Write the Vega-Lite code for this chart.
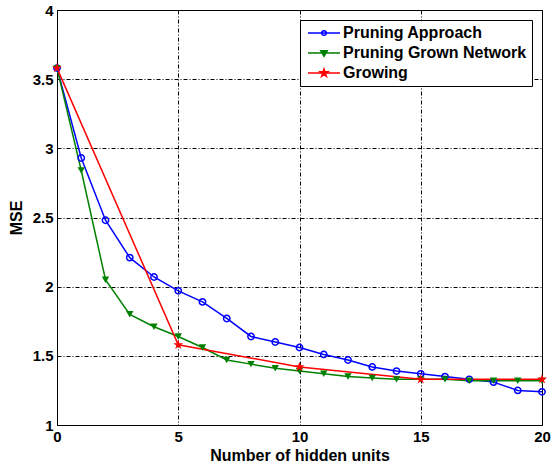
{
  "$schema": "https://vega.github.io/schema/vega-lite/v6.json",
  "width": 485,
  "height": 415,
  "autosize": {"type": "none"},
  "padding": {"left": 57, "top": 10, "right": 11, "bottom": 41},
  "background": "white",
  "config": {
    "view": {"stroke": "black", "strokeWidth": 1},
    "font": "Liberation Sans",
    "axis": {
      "grid": true, "gridColor": "black", "gridDash": [4, 2, 1, 2], "gridOpacity": 1, "gridWidth": 1,
      "domain": false, "ticks": false,
      "labelFont": "Liberation Sans", "labelFontWeight": "bold", "labelFontSize": 15, "labelColor": "black",
      "titleFont": "Liberation Sans", "titleFontWeight": "bold", "titleFontSize": 16, "titleColor": "black"
    }
  },
  "data": {
    "values": [
      {"series": "Pruning Approach", "units": 0, "mse": 3.58},
      {"series": "Pruning Approach", "units": 1, "mse": 2.93},
      {"series": "Pruning Approach", "units": 2, "mse": 2.48},
      {"series": "Pruning Approach", "units": 3, "mse": 2.21},
      {"series": "Pruning Approach", "units": 4, "mse": 2.07},
      {"series": "Pruning Approach", "units": 5, "mse": 1.97},
      {"series": "Pruning Approach", "units": 6, "mse": 1.89},
      {"series": "Pruning Approach", "units": 7, "mse": 1.77},
      {"series": "Pruning Approach", "units": 8, "mse": 1.64},
      {"series": "Pruning Approach", "units": 9, "mse": 1.60},
      {"series": "Pruning Approach", "units": 10, "mse": 1.56},
      {"series": "Pruning Approach", "units": 11, "mse": 1.51},
      {"series": "Pruning Approach", "units": 12, "mse": 1.47},
      {"series": "Pruning Approach", "units": 13, "mse": 1.42},
      {"series": "Pruning Approach", "units": 14, "mse": 1.39},
      {"series": "Pruning Approach", "units": 15, "mse": 1.37},
      {"series": "Pruning Approach", "units": 16, "mse": 1.35},
      {"series": "Pruning Approach", "units": 17, "mse": 1.33},
      {"series": "Pruning Approach", "units": 18, "mse": 1.31},
      {"series": "Pruning Approach", "units": 19, "mse": 1.25},
      {"series": "Pruning Approach", "units": 20, "mse": 1.24},
      {"series": "Pruning Grown Network", "units": 0, "mse": 3.58},
      {"series": "Pruning Grown Network", "units": 1, "mse": 2.84},
      {"series": "Pruning Grown Network", "units": 2, "mse": 2.05},
      {"series": "Pruning Grown Network", "units": 3, "mse": 1.80},
      {"series": "Pruning Grown Network", "units": 4, "mse": 1.71},
      {"series": "Pruning Grown Network", "units": 5, "mse": 1.64},
      {"series": "Pruning Grown Network", "units": 6, "mse": 1.56},
      {"series": "Pruning Grown Network", "units": 7, "mse": 1.47},
      {"series": "Pruning Grown Network", "units": 8, "mse": 1.44},
      {"series": "Pruning Grown Network", "units": 9, "mse": 1.41},
      {"series": "Pruning Grown Network", "units": 10, "mse": 1.39},
      {"series": "Pruning Grown Network", "units": 11, "mse": 1.37},
      {"series": "Pruning Grown Network", "units": 12, "mse": 1.35},
      {"series": "Pruning Grown Network", "units": 13, "mse": 1.34},
      {"series": "Pruning Grown Network", "units": 14, "mse": 1.33},
      {"series": "Pruning Grown Network", "units": 15, "mse": 1.33},
      {"series": "Pruning Grown Network", "units": 16, "mse": 1.33},
      {"series": "Pruning Grown Network", "units": 17, "mse": 1.32},
      {"series": "Pruning Grown Network", "units": 18, "mse": 1.32},
      {"series": "Pruning Grown Network", "units": 19, "mse": 1.32},
      {"series": "Pruning Grown Network", "units": 20, "mse": 1.32},
      {"series": "Growing", "units": 0, "mse": 3.58},
      {"series": "Growing", "units": 5, "mse": 1.58},
      {"series": "Growing", "units": 10, "mse": 1.42},
      {"series": "Growing", "units": 15, "mse": 1.33},
      {"series": "Growing", "units": 20, "mse": 1.33}
    ]
  },
  "encoding": {
    "x": {
      "field": "units", "type": "quantitative",
      "scale": {"domain": [0, 20], "nice": false, "zero": false},
      "axis": {"values": [0, 5, 10, 15, 20], "title": "Number of hidden units", "labelPadding": 4, "titlePadding": 3, "labelFlush": false}
    },
    "y": {
      "field": "mse", "type": "quantitative",
      "scale": {"domain": [1, 4], "nice": false, "zero": false},
      "axis": {"values": [1, 1.5, 2, 2.5, 3, 3.5, 4], "format": "~g", "title": "MSE", "labelPadding": 4, "titlePadding": 8, "labelFlush": false}
    }
  },
  "layer": [
    {
      "mark": {"type": "point", "size": 100, "strokeWidth": 1.5, "opacity": 0},
      "encoding": {
        "shape": {
          "field": "series", "type": "nominal",
          "scale": {"domain": ["Pruning Approach", "Pruning Grown Network", "Growing"], "range": [
            "M-3.2,0H3.2M0.45,0A0.45,0.45,0,1,1,-0.45,0A0.45,0.45,0,1,1,0.45,0Z",
            "M-3.2,0H3.2M-0.65,-0.45L0.65,-0.45L0,0.65Z",
            "M-3.2,0H3.2M0,-0.8L0.18,-0.247L0.761,-0.247L0.29,0.094L0.47,0.647L0,0.306L-0.47,0.647L-0.29,0.094L-0.761,-0.247L-0.18,-0.247Z"
          ]},
          "legend": {
            "orient": "top-right", "offset": 10, "title": null,
            "strokeColor": "black", "fillColor": "white", "padding": 5,
            "labelFont": "Liberation Sans", "labelFontWeight": "bold", "labelFontSize": 16, "labelColor": "black", "labelLimit": 400,
            "symbolSize": 100, "symbolOffset": 11, "labelOffset": 11, "rowPadding": 4, "symbolStrokeWidth": 1.5, "symbolOpacity": 1
          }
        },
        "stroke": {
          "field": "series", "type": "nominal",
          "scale": {"domain": ["Pruning Approach", "Pruning Grown Network", "Growing"], "range": ["#0000ff", "#008000", "#ff0000"]},
          "legend": null
        },
        "fill": {
          "field": "series", "type": "nominal",
          "scale": {"domain": ["Pruning Approach", "Pruning Grown Network", "Growing"], "range": ["transparent", "#008000", "#ff0000"]},
          "legend": null
        }
      }
    },
    {
      "mark": {"type": "line", "strokeWidth": 1.5},
      "encoding": {
        "color": {
          "field": "series", "type": "nominal",
          "scale": {"domain": ["Pruning Approach", "Pruning Grown Network", "Growing"], "range": ["#0000ff", "#008000", "#ff0000"]},
          "legend": null
        }
      }
    },
    {
      "transform": [{"filter": "datum.series === 'Pruning Approach'"}],
      "mark": {"type": "point", "shape": "circle", "size": 40, "strokeWidth": 1.5, "filled": false, "color": "#0000ff", "opacity": 1}
    },
    {
      "transform": [{"filter": "datum.series === 'Pruning Grown Network'"}],
      "mark": {"type": "point", "shape": "triangle-down", "size": 55, "strokeWidth": 1, "filled": true, "color": "#008000", "opacity": 1}
    },
    {
      "transform": [{"filter": "datum.series === 'Growing'"}],
      "mark": {"type": "point", "shape": "M0,-1L0.225,-0.309L0.951,-0.309L0.363,0.118L0.588,0.809L0,0.382L-0.588,0.809L-0.363,0.118L-0.951,-0.309L-0.225,-0.309Z", "size": 110, "strokeWidth": 1, "filled": true, "color": "#ff0000", "opacity": 1}
    }
  ]
}
